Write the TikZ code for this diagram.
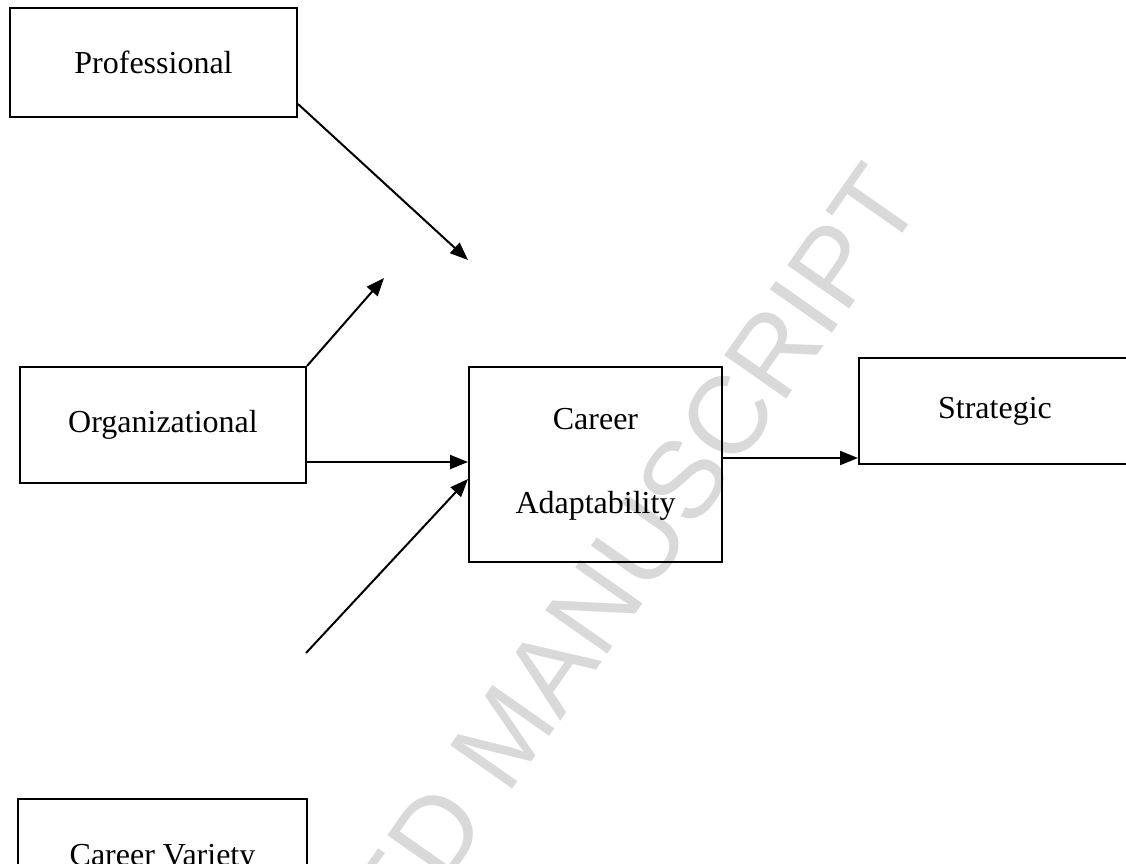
\documentclass[tikz,border=0pt]{standalone}
\usepackage{fontspec}
\setmainfont{Liberation Serif}
\newfontfamily\wmfont{Liberation Sans}
\usetikzlibrary{arrows.meta,calc}
\definecolor{wmgray}{RGB}{217,217,217}
\tikzset{
  box/.style={draw=black, line width=2pt, rectangle, inner sep=0pt, align=center,
    font=\fontsize{32}{84}\selectfont},
  arr/.style={draw=black, line width=2pt, -{Triangle[length=18pt,width=14pt]}},
  wm/.style={text=wmgray, font=\wmfont\fontsize{110}{110}\selectfont, inner sep=0pt}
}
\begin{document}
\begin{tikzpicture}[x=1pt,y=-1pt]
\useasboundingbox (0,0) rectangle (1126,863);
% watermark
\node[wm, rotate=55] (wmark) at (505,735) {ACCEPTED MANUSCRIPT};
% boxes
\node[box, minimum width=287pt, minimum height=109pt] (prof) at (153.5,62.5) {Professional};
\node[box, minimum width=286pt, minimum height=116pt] (org) at (163,425) {Organizational};
\node[box, minimum width=253pt, minimum height=195pt] (car) at (595.5,464.5) {Career\\Adaptability};
\node[box, minimum width=272pt, minimum height=106pt] (strat) at (995,411) {Strategic};
\node[box, minimum width=289pt, minimum height=118pt] (cv) at (162.5,858) {Career Variety};
% free ends
\coordinate (t1) at (468,260);
\coordinate (t2) at (384,278);
\coordinate (s4) at (306,653);
\coordinate (h3) at (0,462);
\coordinate (h4) at (0,479);
\coordinate (h5) at (0,458);
% connectors
\draw[arr] ($(prof.south east)+(0,-14)$) -- (t1);
\draw[arr] (org.north east) -- (t2);
\draw[arr] (org.east |- h3) -- (car.west |- h3);
\draw[arr] (s4) -- (car.west |- h4);
\draw[arr] (car.east |- h5) -- (strat.west |- h5);
\end{tikzpicture}
\end{document}
